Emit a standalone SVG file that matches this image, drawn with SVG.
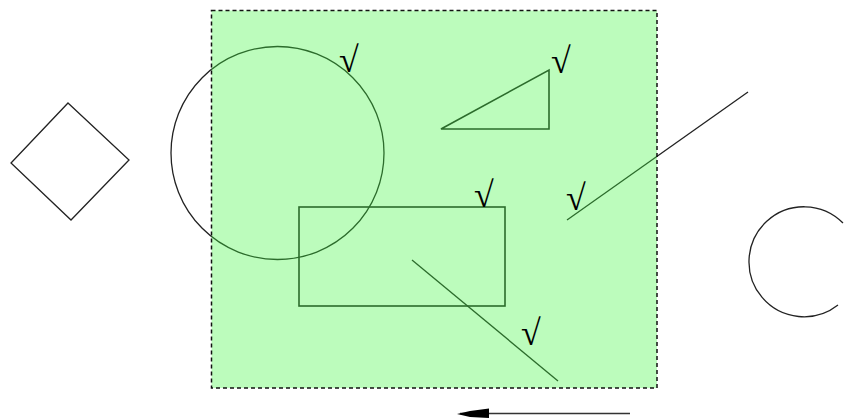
<svg xmlns="http://www.w3.org/2000/svg" width="845" height="418" viewBox="0 0 845 418">
<style>
.shape{fill:none;stroke:#222;stroke-width:1.3}
.thick{stroke-width:1.6}
.chk{font-family:"Liberation Serif","DejaVu Serif",serif;font-size:36px;fill:#000}
</style>
<rect width="845" height="418" fill="#fff"/>
<g id="diamond"><polygon class="shape" points="68,103 129,160 71,220 11,163"/></g>
<g id="circle-big"><circle class="shape" cx="277.5" cy="153" r="106.5"/></g>
<g id="triangle"><polygon class="shape thick" points="441,129 549,70 549,129"/></g>
<g id="rect"><rect class="shape thick" x="299" y="207" width="206" height="99"/></g>
<g id="line-a"><line class="shape" x1="412" y1="260" x2="558" y2="381"/></g>
<g id="line-b"><line class="shape" x1="567" y1="220" x2="748" y2="92"/></g>
<g id="arc-right"><path class="shape" d="M843,223 A55,55 0 1 0 838,305"/></g>
<g id="selection">
<rect x="211.5" y="10.5" width="445.5" height="377.5" fill="rgb(64,246,64)" fill-opacity="0.35" stroke="none"/>
<rect x="211.5" y="10.5" width="445.5" height="377.5" fill="none" stroke="#111" stroke-width="1.5" stroke-dasharray="4,3"/>
</g>
<g id="checks">
<text class="chk" x="339" y="72">√</text>
<text class="chk" x="551" y="73">√</text>
<text class="chk" x="474" y="207">√</text>
<text class="chk" x="566" y="210">√</text>
<text class="chk" x="521" y="345">√</text>
</g>
<g id="connectors">
<line x1="630" y1="413.5" x2="460" y2="413.5" stroke="#333" stroke-width="1.6"/>
<polygon points="457,414 470,411 489,408.5 489,418 470,417" fill="#000"/>
</g>
</svg>
